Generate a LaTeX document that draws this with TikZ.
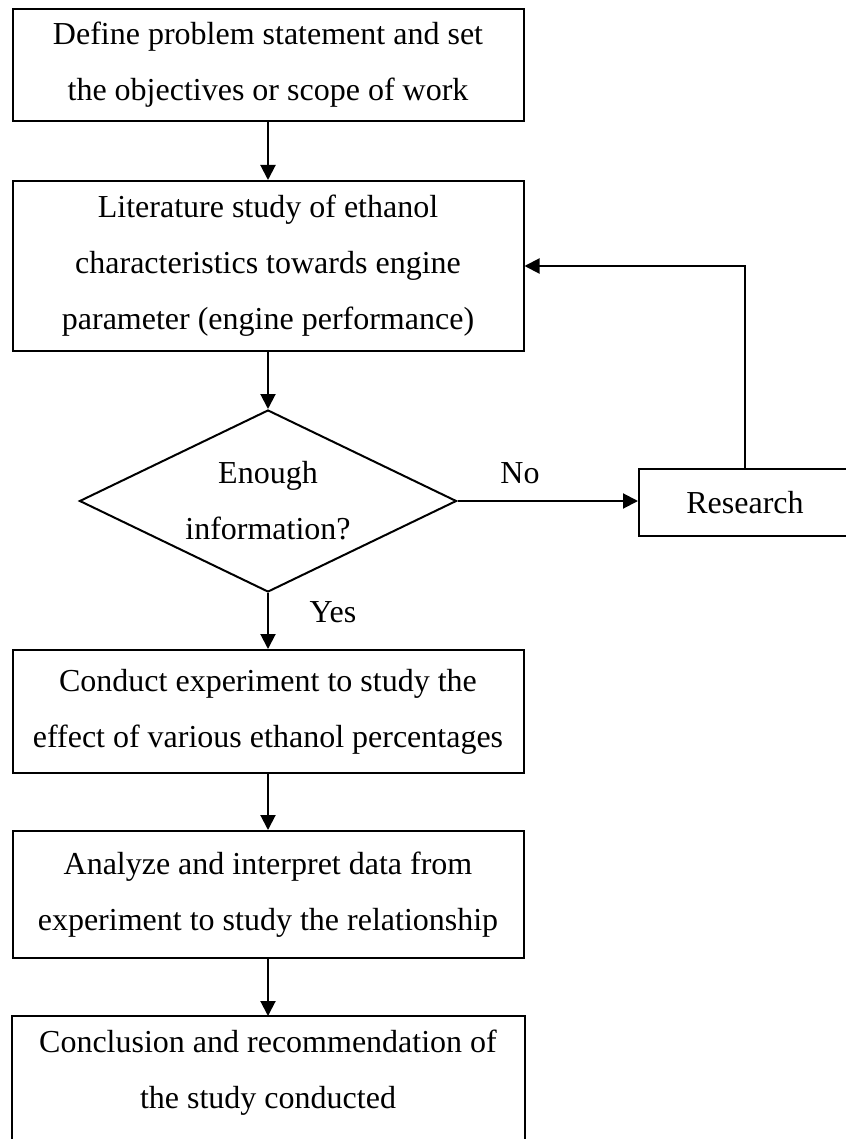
\documentclass[tikz,border=0pt]{standalone}
\usepackage{fontspec}
\setmainfont{Liberation Serif}
\usetikzlibrary{shapes.geometric,arrows.meta}
\begin{document}
\begin{tikzpicture}[x=1pt,y=-1pt,>={Triangle[length=15pt,width=15pt]},line width=2pt,
	every node/.style={font=\fontsize{32}{56}\selectfont},
	stepbox/.style={draw,rectangle,minimum width=511pt,inner sep=0pt,align=center},
	decision/.style={draw,diamond,aspect=2,minimum width=377pt,minimum height=182pt,inner sep=0pt,align=center}]
\useasboundingbox (0,0) rectangle (845,1139);
\node[stepbox,minimum height=112pt] (define) at (268,65)
	{Define problem statement and set\\the objectives or scope of work};
\node[stepbox,minimum height=170pt] (lit) at (268,266)
	{Literature study of ethanol\\characteristics towards engine\\parameter (engine performance)};
\node[decision] (enough) at (268,501) {Enough\\information?};
\node[draw,rectangle,minimum width=212pt,minimum height=67pt,inner sep=0pt] (research) at (745,502.5) {Research};
\node[stepbox,minimum height=123pt] (conduct) at (268,711.5)
	{Conduct experiment to study the\\effect of various ethanol percentages};
\node[stepbox,minimum height=127pt] (analyze) at (268,894.5)
	{Analyze and interpret data from\\experiment to study the relationship};
\node[stepbox,draw=none,minimum height=112pt] (concl) at (268,1073)
	{Conclusion and recommendation of\\the study conducted};
\draw (concl.north west) rectangle ([yshift=-40pt]concl.south east);
\node (no) at (520,473) {No};
\node (yes) at (333,612) {Yes};
\draw[->] (define) -- (lit);
\draw[->] (lit) -- (enough);
\draw[->] (enough.east) -- (enough.east -| research.west);
\draw[->] (research.north) |- (lit.east);
\draw[->] (enough) -- (conduct);
\draw[->] (conduct) -- (analyze);
\draw[->] (analyze) -- (concl);
\end{tikzpicture}
\end{document}
